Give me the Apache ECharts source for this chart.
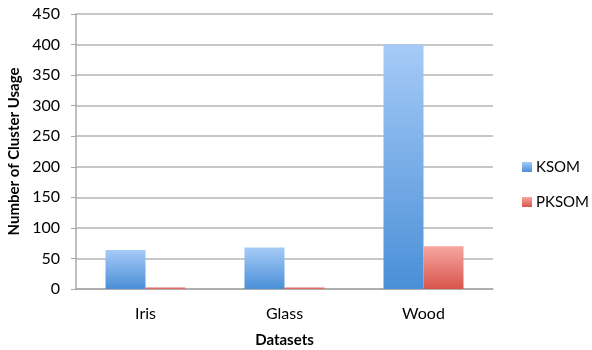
<!DOCTYPE html>
<html lang="en">
<head>
    <meta charset="UTF-8">
    <title>Cluster usage</title>
    <script src="https://cdn.jsdelivr.net/npm/echarts@6/dist/echarts.min.js"></script>
    <style>
        html, body { margin: 0; padding: 0; background: #fff; }
        #container { width: 592px; height: 350px; }
    </style>
</head>
<body>
<div id="container"></div>
<script>
    var datasets = ['Iris', 'Glass', 'Wood'];
    var ksom = [64, 68, 400];
    var pksom = [3, 3, 70];
    var yTicks = [0, 50, 100, 150, 200, 250, 300, 350, 400, 450];

    var font = 'Lato, "Open Sans", sans-serif';
    var myChart = echarts.init(document.getElementById('container'));

    function grad(top, bottom) {
        return new echarts.graphic.LinearGradient(0, 0, 0, 1, [
            { offset: 0, color: top },
            { offset: 1, color: bottom }
        ]);
    }

    var option = {
        backgroundColor: '#fff',
        animation: false,
        grid: { left: 76, right: 99, top: 14, bottom: 61, containLabel: false, outerBoundsMode: 'none' },
        legend: {
            orient: 'vertical',
            left: 522,
            top: 158,
            padding: 0,
            itemWidth: 10,
            itemHeight: 10,
            itemGap: 17,
            icon: 'rect',
            textStyle: { fontFamily: font, fontSize: 15, lineHeight: 18, color: '#000', padding: [0, 0, 0, -1] },
            data: ['KSOM', 'PKSOM']
        },
        xAxis: {
            type: 'category',
            data: datasets,
            name: 'Datasets',
            nameLocation: 'middle',
            nameGap: 44,
            nameTextStyle: { fontFamily: font, fontSize: 15, fontWeight: 'bold', color: '#000' },
            axisLine: { lineStyle: { color: '#a8a8a8', width: 1.5 } },
            axisTick: { show: false },
            axisLabel: { fontFamily: font, fontSize: 16, color: '#000', margin: 17 }
        },
        yAxis: {
            type: 'value',
            min: yTicks[0],
            max: yTicks[yTicks.length - 1],
            interval: 50,
            name: 'Number of Cluster Usage',
            nameLocation: 'middle',
            nameGap: 44,
            nameTextStyle: { fontFamily: font, fontSize: 15, fontWeight: 'bold', color: '#000' },
            axisLine: { show: true, lineStyle: { color: '#a8a8a8', width: 1.5 } },
            axisTick: { show: true, length: 5, lineStyle: { color: '#a8a8a8' } },
            splitLine: { lineStyle: { color: '#b4b4b4', width: 1.5 } },
            axisLabel: { fontFamily: font, fontSize: 16, color: '#000', margin: 16 }
        },
        series: [
            {
                name: 'KSOM',
                type: 'bar',
                data: ksom,
                barWidth: 40,
                barGap: '0%',
                itemStyle: { color: grad('#a6cbf7', '#4a8fd7') }
            },
            {
                name: 'PKSOM',
                type: 'bar',
                data: pksom,
                barWidth: 40,
                itemStyle: { color: grad('#f7a6a0', '#d8554c') }
            }
        ]
    };
    myChart.setOption(option);
</script>
</body>
</html>
